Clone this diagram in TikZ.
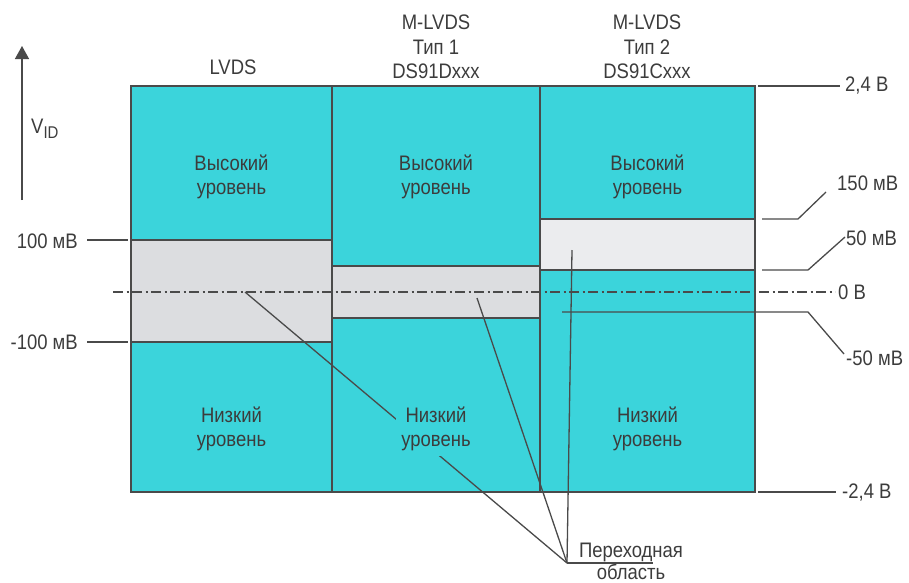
\documentclass[tikz,border=0pt]{standalone}
\usepackage{fontspec}
\setmainfont[FakeStretch=0.88]{Liberation Sans}
\usetikzlibrary{arrows.meta}
\definecolor{cy}{HTML}{3BD4DB}
\definecolor{bandA}{HTML}{DCDDE0}
\definecolor{bandB}{HTML}{EBECEE}
\definecolor{ln}{HTML}{4A4A4A}
\definecolor{tx}{HTML}{3C3C3C}
\tikzset{
  colbox/.style={fill=cy, draw=ln, line width=1.6pt},
  bandbox/.style={draw=ln, line width=1.6pt},
  lbl/.style={font=\fontsize{21}{24}\selectfont, text=tx, inner sep=0pt},
  lvl/.style={lbl, align=center, fill=cy, inner sep=5pt},
  lead/.style={draw=ln, line width=1.3pt},
  zeroline/.style={draw=ln, line width=1.2pt, dash pattern=on 10pt off 3.5pt on 2pt off 3.5pt}
}
\begin{document}
\begin{tikzpicture}[x=1pt,y=-1pt]
\useasboundingbox (0,0) rectangle (909,582);
% columns
\draw[colbox] (131,86) rectangle (332,492);
\draw[colbox] (332,86) rectangle (540,492);
\draw[colbox] (540,86) rectangle (755,492);
% transition bands
\draw[bandbox, fill=bandA] (131,240) rectangle (332,342);
\draw[bandbox, fill=bandA] (332,266) rectangle (540,318);
\draw[bandbox, fill=bandB] (540,219) rectangle (755,270);
% zero line
\coordinate (z0) at (113,292);
\coordinate (z1) at (835,292);
\draw[zeroline] (z0) -- (z1);
% axis
\coordinate (axb) at (22,200);
\coordinate (axt) at (22,46);
\draw[ln, line width=1.4pt, -{Triangle[length=13pt,width=14pt]}] (axb) -- (axt);
\node[lbl, anchor=base west] (vid) at (31,133) {V\raisebox{-5pt}{\fontsize{17}{17}\selectfont ID}};
% left ticks
\node[lbl, anchor=east] (p100) at (78,241) {100 мВ};
\node[lbl, anchor=east] (m100) at (78,342) {-100 мВ};
\coordinate (lt1a) at (87,240); \coordinate (lt1b) at (128,240);
\coordinate (lt2a) at (87,342); \coordinate (lt2b) at (128,342);
\draw[lead] (lt1a) -- (lt1b);
\draw[lead] (lt2a) -- (lt2b);
% right labels
\node[lbl, anchor=west] (r24) at (845,86) {2,4 В};
\node[lbl, anchor=west] (r150) at (837,183) {150 мВ};
\node[lbl, anchor=west] (r50) at (846,238) {50 мВ};
\node[lbl, anchor=west] (r0) at (838,292) {0 В};
\node[lbl, anchor=west] (rm50) at (846,358) {-50 мВ};
\node[lbl, anchor=west] (rm24) at (842,492) {-2,4 В};
\coordinate (a1) at (758,86); \coordinate (a2) at (840,86);
\draw[lead] (a1) -- (a2);
\coordinate (b1) at (762,219); \coordinate (b2) at (798,219); \coordinate (b3) at (826,192);
\draw[lead] (b1) -- (b2) -- (b3);
\coordinate (c1) at (762,270); \coordinate (c2) at (808,270); \coordinate (c3) at (845,237);
\draw[lead] (c1) -- (c2) -- (c3);
\coordinate (d1) at (562,312); \coordinate (d2) at (808,312); \coordinate (d3) at (844,354);
\draw[lead] (d1) -- (d2) -- (d3);
\coordinate (e1) at (758,492); \coordinate (e2) at (836,492);
\draw[lead] (e1) -- (e2);
% transition leaders
\coordinate (t0) at (567,563);
\coordinate (s1) at (245,292);
\coordinate (s2) at (477,298);
\coordinate (s3) at (572,250);
\coordinate (u1) at (653,563);
\draw[lead] (s1) -- (t0);
\draw[lead] (s2) -- (t0);
\draw[lead] (s3) -- (t0);
\draw[lead] (t0) -- (u1);
\node[lbl, anchor=base] (tr1) at (631,557) {Переходная};
\node[lbl, anchor=base] (tr2) at (631,579) {область};
% top labels
\node[lbl, anchor=base] (h1) at (233,74) {LVDS};
\node[lbl, anchor=base] (h2a) at (436,29) {M-LVDS};
\node[lbl, anchor=base] (h2b) at (436,54) {Тип 1};
\node[lbl, anchor=base] (h2c) at (436,78) {DS91Dxxx};
\node[lbl, anchor=base] (h3a) at (647,29) {M-LVDS};
\node[lbl, anchor=base] (h3b) at (647,54) {Тип 2};
\node[lbl, anchor=base] (h3c) at (647,78) {DS91Cxxx};
% level labels
\node[lvl] (hi1) at (231.5,177) {Высокий\\уровень};
\node[lvl] (hi2) at (436,177) {Высокий\\уровень};
\node[lvl] (hi3) at (647.5,177) {Высокий\\уровень};
\node[lvl] (lo1) at (231.5,429) {Низкий\\уровень};
\node[lvl] (lo2) at (436,429) {Низкий\\уровень};
\node[lvl] (lo3) at (647.5,429) {Низкий\\уровень};
\end{tikzpicture}
\end{document}
